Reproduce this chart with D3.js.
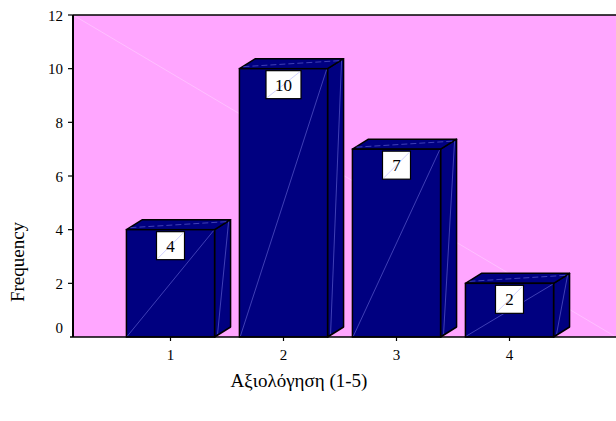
<!DOCTYPE html>
<html>
<head>
<meta charset="utf-8">
<script src="https://cdn.jsdelivr.net/npm/d3@7"></script>
<style>
html,body{margin:0;padding:0;background:#fff;}
svg{display:block;font-family:"Liberation Serif","Times New Roman",serif;}
</style>
</head>
<body>
<svg id="chart" width="616" height="421"></svg>
<script>
const categories = ["1", "2", "3", "4"];
const frequencies = [4, 10, 7, 2];
const yTicks = [0, 2, 4, 6, 8, 10, 12];
const xTitle = "Αξιολόγηση (1-5)";
const yTitle = "Frequency";

const svg = d3.select("#chart");
const plot = {left: 73, top: 15, right: 616, bottom: 337};
const depth = {dx: 16, dy: 10};

const y = d3.scaleLinear().domain([0, 12]).range([plot.bottom, plot.top]);
const x = d3.scaleBand().domain(categories).range([114, 566]).paddingInner(0.22).paddingOuter(0.11);

// background
svg.append("rect").attr("x", plot.left).attr("y", plot.top)
  .attr("width", plot.right - plot.left).attr("height", plot.bottom - plot.top)
  .attr("fill", "#ffa6ff");
svg.append("line").attr("x1", plot.left).attr("y1", plot.top)
  .attr("x2", plot.right).attr("y2", plot.bottom)
  .attr("stroke", "#ffd0ff").attr("stroke-width", 0.6);

// bars
const bars = svg.append("g");
categories.forEach((c, i) => {
  const v = frequencies[i];
  const x0 = x(c), x1 = x(c) + x.bandwidth();
  const yt = y(v), yb = y(0);
  const g = bars.append("g");
  const dx = depth.dx, dy = depth.dy;
  g.append("polygon")
    .attr("points", [[x1, yt], [x1 + dx, yt - dy], [x1 + dx, yb - dy], [x1, yb]].join(" "))
    .attr("fill", "#000080").attr("stroke", "#000").attr("stroke-width", 1.5).attr("stroke-linejoin", "round");
  g.append("polygon")
    .attr("points", [[x0, yt], [x0 + dx, yt - dy], [x1 + dx, yt - dy], [x1, yt]].join(" "))
    .attr("fill", "#000080").attr("stroke", "#000").attr("stroke-width", 1.5).attr("stroke-linejoin", "round");
  g.append("rect").attr("x", x0).attr("y", yt).attr("width", x1 - x0).attr("height", yb - yt)
    .attr("fill", "#000080").attr("stroke", "#000").attr("stroke-width", 1.5);
  g.append("line").attr("x1", x0 + 1).attr("y1", yb - 1).attr("x2", x1 - 1).attr("y2", yt + 1)
    .attr("stroke", "#6a6ad8").attr("stroke-width", 0.6);
  g.append("line").attr("x1", x1 + 3).attr("y1", yb - 3).attr("x2", x1 + dx - 2).attr("y2", yt - dy + 2)
    .attr("stroke", "#6a6ad8").attr("stroke-width", 0.6);
  g.append("line").attr("x1", x0 + 4).attr("y1", yt - 2).attr("x2", x1 + dx - 4).attr("y2", yt - dy + 2)
    .attr("stroke", "#6a6ad8").attr("stroke-width", 0.6).attr("stroke-dasharray", "6,3");
  const cx = x0 + x.bandwidth() / 2;
  const label = String(v);
  const bw = label.length > 1 ? 35 : 28, bh = 28;
  g.append("rect").attr("x", cx - bw / 2).attr("y", yt + 2).attr("width", bw).attr("height", bh)
    .attr("fill", "#fff").attr("stroke", "#000").attr("stroke-width", 1.2);
  g.append("line").attr("x1", cx - bw / 2 + 1).attr("y1", yt + 2 + bh - 1)
    .attr("x2", cx + bw / 2 - 1).attr("y2", yt + 3)
    .attr("stroke", "#b0b0ff").attr("stroke-width", 0.6);
  g.append("text").attr("x", cx).attr("y", yt + 2 + bh / 2 + 6)
    .attr("text-anchor", "middle").attr("font-size", 17).attr("fill", "#000").text(label);
});

// frame lines
svg.append("line").attr("x1", plot.left).attr("y1", plot.top).attr("x2", plot.right).attr("y2", plot.top)
  .attr("stroke", "#000").attr("stroke-width", 1.5);
svg.append("line").attr("x1", plot.left).attr("y1", plot.top).attr("x2", plot.left).attr("y2", plot.bottom)
  .attr("stroke", "#000").attr("stroke-width", 2);
svg.append("line").attr("x1", plot.left - 3).attr("y1", plot.bottom).attr("x2", plot.right).attr("y2", plot.bottom)
  .attr("stroke", "#000").attr("stroke-width", 1.5);

// y ticks
const yg = svg.append("g");
yTicks.forEach(t => {
  if (t > 0) {
    yg.append("line").attr("x1", plot.left - 5).attr("x2", plot.left).attr("y1", y(t)).attr("y2", y(t))
      .attr("stroke", "#000").attr("stroke-width", 1.2);
  }
  yg.append("text").attr("x", 63).attr("y", Math.min(y(t), y(0) - 10) + 5.5)
    .attr("text-anchor", "end").attr("font-size", 15).text(t);
});

// x ticks
const xg = svg.append("g");
categories.forEach(c => {
  const cx = x(c) + x.bandwidth() / 2;
  xg.append("line").attr("x1", cx).attr("x2", cx).attr("y1", plot.bottom).attr("y2", plot.bottom + 4)
    .attr("stroke", "#000").attr("stroke-width", 1.2);
  xg.append("text").attr("x", cx).attr("y", plot.bottom + 23)
    .attr("text-anchor", "middle").attr("font-size", 15).text(c);
});

// titles
svg.append("text").attr("x", 299).attr("y", 387).attr("text-anchor", "middle")
  .attr("font-size", 19).text(xTitle);
svg.append("text").attr("transform", "translate(24,262) rotate(-90)").attr("text-anchor", "middle")
  .attr("font-size", 19).text(yTitle);
</script>
</body>
</html>
